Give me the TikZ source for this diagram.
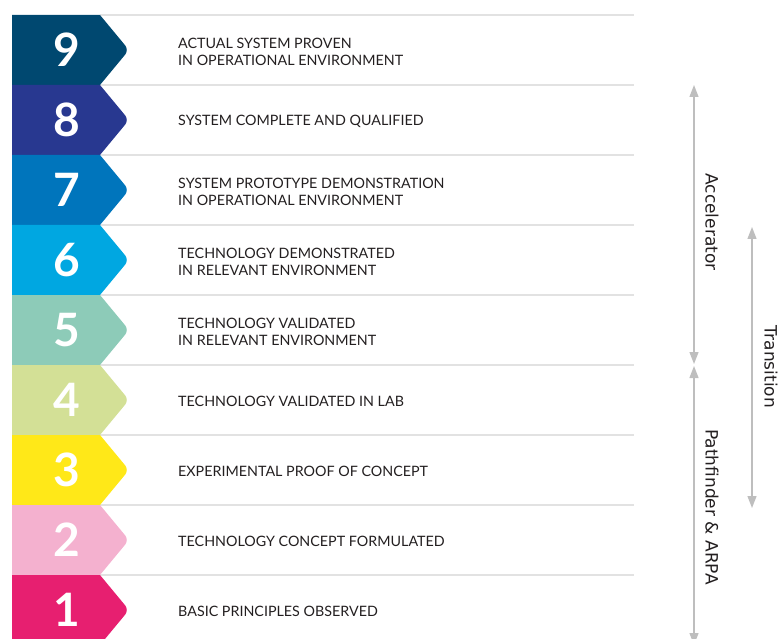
\documentclass[tikz,border=0pt]{standalone}
\usepackage{fontspec}
\setmainfont{Lato}
\newfontfamily\sidefont{DejaVu Sans}
\usepackage{tikz}
\usetikzlibrary{positioning, arrows.meta}

\definecolor{trlnine}{HTML}{004870}
\definecolor{trleight}{HTML}{283890}
\definecolor{trlseven}{HTML}{0075BC}
\definecolor{trlsix}{HTML}{00A7E1}
\definecolor{trlfive}{HTML}{8DCBB8}
\definecolor{trlfour}{HTML}{D3E096}
\definecolor{trlthree}{HTML}{FFE818}
\definecolor{trltwo}{HTML}{F4B1CF}
\definecolor{trlone}{HTML}{E71F70}
\definecolor{sepgray}{HTML}{E2E2E2}
\definecolor{spangray}{HTML}{BEBEBE}
\definecolor{inkdark}{HTML}{231F20}

\begin{document}
\begin{tikzpicture}[x=1pt, y=-1pt,
    sepline/.style={draw=sepgray, line width=1.2pt},
    digit/.style={text=white, font=\fontsize{46}{46}\selectfont\bfseries},
    level/.style={anchor=west, align=left, text=inkdark, inner sep=0pt, font=\fontsize{14.3}{17}\selectfont},
    span/.style={draw=spangray, line width=1.3pt, {Triangle[length=12pt, width=9pt]}-{Triangle[length=12pt, width=9pt]}},
    sidelabel/.style={rotate=-90, text=inkdark, font=\sidefont\fontsize{17}{17}\selectfont}]
    \useasboundingbox (0,0) rectangle (779,639);
    \clip (0,0) rectangle (779,639);

    % separators between the levels
    \draw[sepline] (100,15) -- (634,15);  \draw[sepline] (100,85) -- (634,85);
    \draw[sepline] (100,155) -- (634,155); \draw[sepline] (100,225) -- (634,225);
    \draw[sepline] (100,295) -- (634,295); \draw[sepline] (100,365) -- (634,365);
    \draw[sepline] (100,435) -- (634,435); \draw[sepline] (100,505) -- (634,505);
    \draw[sepline] (100,575) -- (634,575);

    % Level 9 - dark blue
    \fill[trlnine] (12,15) -- (100,15) [rounded corners=6pt] -- (129,50) [sharp corners] -- (100,85) -- (12,85) -- cycle;
    \node[digit] (n9) at (67,50) {9};
    \node[level] (t9) at (178,52) {ACTUAL SYSTEM PROVEN\\IN OPERATIONAL ENVIRONMENT};

    % Level 8 - indigo
    \fill[trleight] (12,85) -- (100,85) [rounded corners=6pt] -- (129,120) [sharp corners] -- (100,155) -- (12,155) -- cycle;
    \node[digit] (n8) at (67,120) {8};
    \node[level] (t8) at (178,121.5) {SYSTEM COMPLETE AND QUALIFIED};

    % Level 7 - blue
    \fill[trlseven] (12,155) -- (100,155) [rounded corners=6pt] -- (129,190) [sharp corners] -- (100,225) -- (12,225) -- cycle;
    \node[digit] (n7) at (67,190) {7};
    \node[level] (t7) at (178,192) {SYSTEM PROTOTYPE DEMONSTRATION\\IN OPERATIONAL ENVIRONMENT};

    % Level 6 - light blue
    \fill[trlsix] (12,225) -- (100,225) [rounded corners=6pt] -- (129,260) [sharp corners] -- (100,295) -- (12,295) -- cycle;
    \node[digit] (n6) at (67,260) {6};
    \node[level] (t6) at (178,262) {TECHNOLOGY DEMONSTRATED\\IN RELEVANT ENVIRONMENT};

    % Level 5 - sea green
    \fill[trlfive] (12,295) -- (100,295) [rounded corners=6pt] -- (129,330) [sharp corners] -- (100,365) -- (12,365) -- cycle;
    \node[digit] (n5) at (67,330) {5};
    \node[level] (t5) at (178,332) {TECHNOLOGY VALIDATED\\IN RELEVANT ENVIRONMENT};

    % Level 4 - pale green
    \fill[trlfour] (12,365) -- (100,365) [rounded corners=6pt] -- (129,400) [sharp corners] -- (100,435) -- (12,435) -- cycle;
    \node[digit] (n4) at (67,400) {4};
    \node[level] (t4) at (178,401.5) {TECHNOLOGY VALIDATED IN LAB};

    % Level 3 - yellow
    \fill[trlthree] (12,435) -- (100,435) [rounded corners=6pt] -- (129,470) [sharp corners] -- (100,505) -- (12,505) -- cycle;
    \node[digit] (n3) at (67,470) {3};
    \node[level] (t3) at (178,471.5) {EXPERIMENTAL PROOF OF CONCEPT};

    % Level 2 - pink
    \fill[trltwo] (12,505) -- (100,505) [rounded corners=6pt] -- (129,540) [sharp corners] -- (100,575) -- (12,575) -- cycle;
    \node[digit] (n2) at (67,540) {2};
    \node[level] (t2) at (178,541.5) {TECHNOLOGY CONCEPT FORMULATED};

    % Level 1 - magenta
    \fill[trlone] (12,575) -- (100,575) [rounded corners=6pt] -- (129,610) [sharp corners] -- (100,645) -- (12,645) -- cycle;
    \node[digit] (n1) at (67,610) {1};
    \node[level] (t1) at (178,611.5) {BASIC PRINCIPLES OBSERVED};

    % programme spans
    \coordinate (acctop) at (694,85);   \coordinate (accbot) at (694,364);
    \coordinate (pathtop) at (694,366); \coordinate (pathbot) at (694,645);
    \coordinate (transtop) at (752,227); \coordinate (transbot) at (752,508);
    \draw[span] (acctop) -- (accbot);
    \draw[span] (pathtop) -- (pathbot);
    \draw[span] (transtop) -- (transbot);
    \node[sidelabel] (acc) at (712,222) {Accelerator};
    \node[sidelabel] (path) at (712,507) {Pathfinder \& ARPA};
    \node[sidelabel] (trans) at (771,367) {Transition};
\end{tikzpicture}
\end{document}
